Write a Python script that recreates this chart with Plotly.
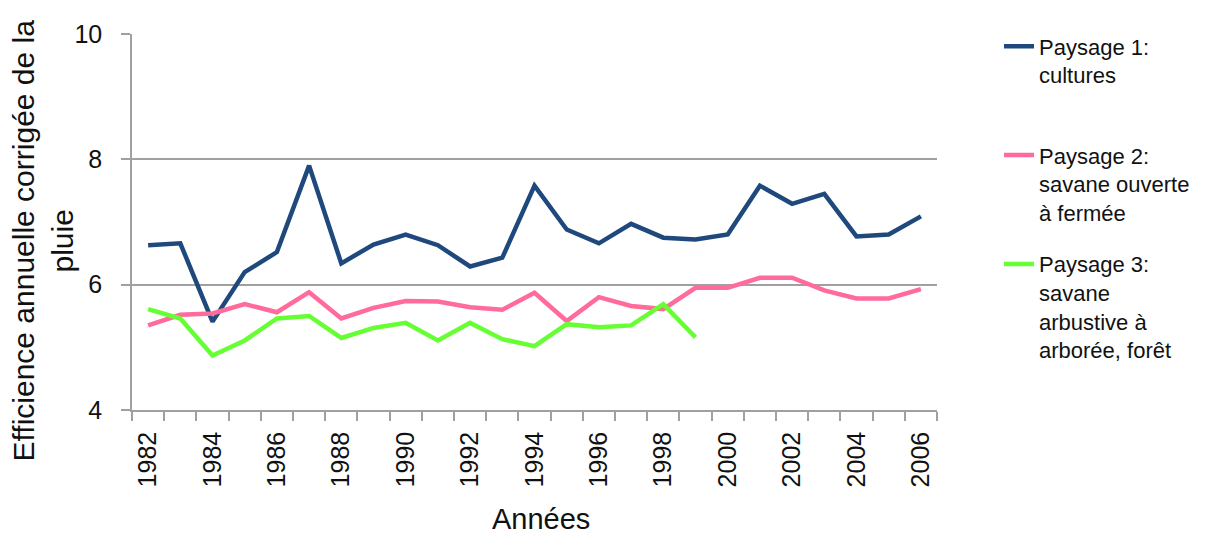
import plotly.graph_objects as go

years = list(range(1982, 2007))
paysage1 = [6.63, 6.66, 5.41, 6.20, 6.52, 7.90, 6.34, 6.64, 6.80, 6.63, 6.29, 6.43, 7.58,
            6.88, 6.66, 6.97, 6.75, 6.72, 6.80, 7.58, 7.29, 7.45, 6.77, 6.80, 7.09]
paysage2 = [5.35, 5.52, 5.54, 5.69, 5.56, 5.88, 5.46, 5.63, 5.74, 5.73, 5.64, 5.60, 5.87,
            5.42, 5.80, 5.66, 5.61, 5.95, 5.95, 6.11, 6.11, 5.91, 5.78, 5.78, 5.93]
paysage3 = [5.61, 5.46, 4.87, 5.11, 5.46, 5.50, 5.15, 5.31, 5.39, 5.11, 5.39, 5.13, 5.02,
            5.37, 5.32, 5.35, 5.69, 5.16]
years3 = years[:len(paysage3)]

names = ["Paysage 1:<br>cultures<br> ",
         "Paysage 2:<br>savane ouverte<br>à fermée",
         "Paysage 3:<br>savane<br>arbustive à<br>arborée, forêt"]
colors = ["#1F497D", "#FF6B9A", "#66FF33"]
tick_years = list(range(1982, 2007, 2))
tick_text = [str(y) for y in tick_years]
y_ticks = [4, 6, 8, 10]

FONT = "Liberation Sans, Arial, sans-serif"
# page body has an 8px margin; figure sized to fit inside the window
W, H = 1215, 528
L, T = 124, 16
PW, PH = 805, 386
R, B = W - L - PW, H - T - PH

fig = go.Figure()
for i, (xs, ys) in enumerate([(years, paysage1), (years, paysage2), (years3, paysage3)]):
    fig.add_trace(go.Scatter(x=xs, y=ys, mode="lines", name=names[i],
                             legendgroup=f"g{i}",
                             line=dict(color=colors[i], width=4.5)))

fig.update_layout(
    width=W, height=H,
    margin=dict(l=L, r=R, t=T, b=B),
    plot_bgcolor="white", paper_bgcolor="white",
    font=dict(family=FONT, color="#111"),
    showlegend=True,
    legend=dict(xref="container", yref="container", x=991 / W, y=1 - 17.5 / H,
                xanchor="left", yanchor="top", valign="top", maxheight=500,
                tracegroupgap=20, font=dict(size=22, family=FONT, color="#111"),
                bgcolor="rgba(0,0,0,0)"),
    xaxis=dict(range=[1981.5, 2006.5], tickmode="array", tickvals=tick_years,
               ticktext=tick_text, tickangle=-90, ticks="", showgrid=False,
               showline=True, linecolor="#a0a0a0", linewidth=1.5,
               tickfont=dict(size=25, family=FONT, color="#111"),
               ticklabelstandoff=10,
               minor=dict(tick0=1981.5, dtick=1, ticks="outside", ticklen=9,
                          tickcolor="#a0a0a0", tickwidth=1.5, showgrid=False),
               zeroline=False),
    yaxis=dict(range=[4, 10], tickvals=y_ticks, ticks="outside", ticklen=9,
               tickcolor="#a0a0a0", tickwidth=1.5, showgrid=True,
               gridcolor="#a0a0a0", gridwidth=1.5, showline=True,
               linecolor="#a0a0a0", linewidth=1.5, zeroline=False,
               ticklabelstandoff=14,
               tickfont=dict(size=25, family=FONT, color="#111")),
)

fig.add_annotation(text="Efficience annuelle corrigée de la<br>pluie",
                   xref="paper", yref="paper", x=(35 - L) / PW, y=(T + PH - 228) / PH,
                   xanchor="center", yanchor="middle", textangle=-90, showarrow=False,
                   font=dict(size=30, family=FONT, color="#111"))
fig.add_annotation(text="Années", xref="paper", yref="paper",
                   x=(533 - L) / PW, y=-B / PH, xanchor="center", yanchor="bottom",
                   yshift=-4, showarrow=False,
                   font=dict(size=29, family=FONT, color="#111"))

fig.write_html("out.html")
